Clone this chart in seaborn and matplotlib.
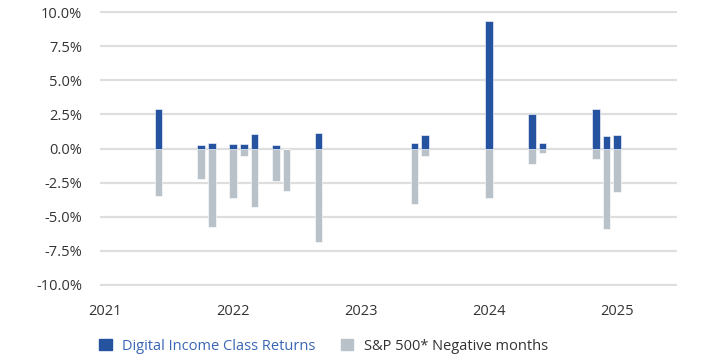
import numpy as np
import pandas as pd
import matplotlib
matplotlib.use("Agg")
import matplotlib.pyplot as plt
from matplotlib.patches import Patch
import seaborn as sns

# month index counted from Jan 2021
months = [5, 9, 10, 12, 13, 14, 16, 17, 20, 29, 30, 36, 40, 41, 46, 47, 48]
fund_returns = [2.93, 0.22, 0.42, 0.34, 0.34, 1.07, 0.22, 0.0, 1.15,
                0.41, 1.0, 9.38, 2.56, 0.42, 2.86, 0.93, 1.0]
sp500_negative = [-3.49, -2.2, -5.74, -3.64, -0.54, -4.3, -2.37, -3.15, -6.86,
                  -4.05, -0.56, -3.64, -1.12, -0.34, -0.78, -5.93, -3.2]
year_ticks = [0, 12, 24, 36, 48]
year_labels = ["2021", "2022", "2023", "2024", "2025"]

blue = "#2553a0"
grey = "#b8c2c8"

df = pd.DataFrame({"month": months, "fund": fund_returns, "sp": sp500_negative})

sns.set_theme(style="white")
plt.rcParams["font.family"] = ["Open Sans", "DejaVu Sans"]

fig = plt.figure(figsize=(7.17, 3.55), dpi=100)
ax = fig.add_axes([100 / 717, 1 - 286 / 355, 577 / 717, (286 - 11) / 355])

sns.barplot(data=df, x="month", y="sp", native_scale=True, color=grey,
            saturation=1, width=0.72, edgecolor="white", linewidth=0.4, ax=ax)
sns.barplot(data=df, x="month", y="fund", native_scale=True, color=blue,
            saturation=1, width=0.72, edgecolor="white", linewidth=0.4, ax=ax)

ax.set_ylim(-10.08, 10.08)
ax.set_xlim(-0.47, 53.6)
ax.set_yticks(np.arange(-10, 10.1, 2.5))
ax.set_yticklabels([f"{v:.1f}%" for v in np.arange(-10, 10.1, 2.5)])
ax.set_xticks(year_ticks)
ax.set_xticklabels(year_labels)
ax.set_xlabel("")
ax.set_ylabel("")
ax.grid(axis="y", color="#dedede", linewidth=1.6)
ax.set_axisbelow(True)
sns.despine(ax=ax, left=True, bottom=True)
ax.tick_params(axis="both", length=0, labelsize=10.5, colors="#333333")
ax.tick_params(axis="y", pad=13)
ax.tick_params(axis="x", pad=13)

handles = [Patch(color=blue), Patch(color=grey)]
leg = fig.legend(handles, ["Digital Income Class Returns", "S&P 500* Negative months"],
                 loc="center left", bbox_to_anchor=(86 / 717, 1 - 346 / 355),
                 ncol=2, frameon=False, fontsize=10.5, handlelength=0.85,
                 handleheight=0.85, handletextpad=0.75, columnspacing=1.7)
leg.get_texts()[0].set_color("#3a66b5")
leg.get_texts()[1].set_color("#333333")

fig.savefig("out.png", dpi=100)
